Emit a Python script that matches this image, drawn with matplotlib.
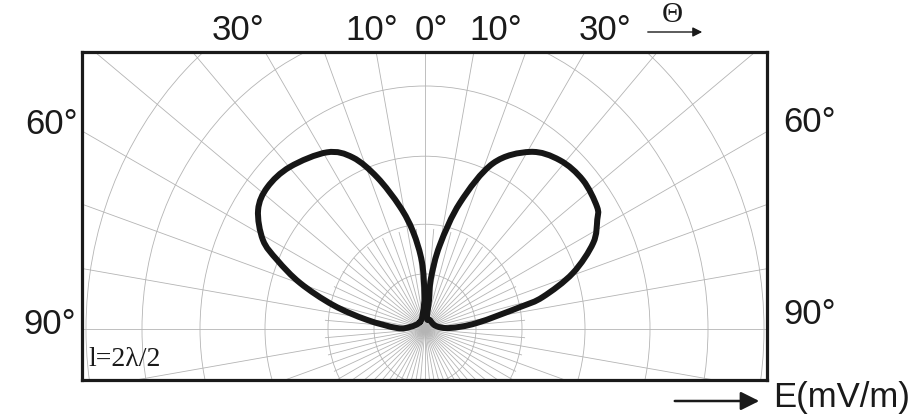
import numpy as np
import matplotlib.pyplot as plt
from matplotlib.patches import Ellipse, FancyArrowPatch, PathPatch
from matplotlib.path import Path

# radiation pattern of the l = 2*lambda/2 dipole, angle from zenith (deg) and field strength
right_theta = [29, 10, 8, 6.7, 10, 15.5, 22.3, 30.7, 38.6, 46.7, 54.6, 57.6, 62.9,
               69.3, 74.8, 77, 83.4, 87.7, 74.7, 29]
right_e = [0.10, 0.11, 0.29, 0.51, 0.85, 1.31, 1.79, 2.06, 2.16, 2.17, 2.11, 2.04, 1.89,
           1.58, 1.22, 0.975, 0.52, 0.25, 0.114, 0.10]

left_theta = [-35, -6.7, -1, -2.6, -7, -11.6, -17.5, -22.8, -29, -39.8, -48, -54.5, -61.2,
              -65, -69.8, -75.4, -81, -88, -82, -35]
left_e = [0.086, 0.17, 0.34, 0.67, 0.98, 1.25, 1.59, 1.86, 2.02, 2.11, 2.12, 2.05, 1.85,
          1.63, 1.33, 0.95, 0.59, 0.28, 0.15, 0.086]

# grid rings (horizontal half-axis) and the spoke angles
ring_r = [0.51, 0.97, 1.60, 2.25, 2.83, 3.39]
ring_stretch = 1.08
major_angles = np.arange(0, 360, 10)
minor_angles = np.arange(5, 360, 10)

W, H = 923, 418
fig = plt.figure(figsize=(W / 100, H / 100), dpi=100)
ax = fig.add_axes([82 / W, 1 - 380 / H, 685 / W, 328 / H])
ax.set_xlim(-3.43, 3.42)
ax.set_ylim(-0.51, 2.77)

grid_kw = dict(color='#b4b4b4', lw=0.6, zorder=1)
for r in ring_r:
    ax.add_patch(Ellipse((0, 0), 2 * r, 2 * r * ring_stretch, fill=False, **grid_kw))
for a in np.radians(major_angles):
    ax.plot([0, 6 * np.sin(a)], [0, 6 * np.cos(a)], **grid_kw)
for a in np.radians(minor_angles):
    ax.plot([0, 1.0 * np.sin(a)], [0, 1.0 * np.cos(a)], **grid_kw)


def smooth_loop(xs, ys):
    # closed Catmull-Rom path through the points, as cubic Bezier segments
    p = np.column_stack([xs, ys])[:-1]
    n = len(p)
    verts = [p[0]]
    codes = [Path.MOVETO]
    for i in range(n):
        p0, p1, p2, p3 = p[i - 1], p[i], p[(i + 1) % n], p[(i + 2) % n]
        verts += [p1 + (p2 - p0) / 6, p2 - (p3 - p1) / 6, p2]
        codes += [Path.CURVE4] * 3
    return Path(verts, codes)


for th, e in [(right_theta, right_e), (left_theta, left_e)]:
    t = np.radians(th)
    e = np.asarray(e)
    path = smooth_loop(e * np.sin(t), e * np.cos(t))
    ax.add_patch(PathPatch(path, fill=False, ec='#161616', lw=4.3,
                           joinstyle='round', capstyle='round', zorder=3))

ax.set_xticks([])
ax.set_yticks([])
for s in ax.spines.values():
    s.set_linewidth(2.3)
    s.set_color('#1a1a1a')


def ftext(x, y, s, **kw):
    fig.text(x / W, 1 - y / H, s, ha='center', va='center', **kw)


lab = dict(fontsize=25, family='Liberation Sans', color='#1a1a1a')
ftext(238, 31, '30°', **lab)
ftext(372, 31, '10°', **lab)
ftext(431, 31, '0°', **lab)
ftext(496, 31, '10°', **lab)
ftext(605, 31, '30°', **lab)
ftext(52, 125, '60°', **lab)
ftext(810, 123, '60°', **lab)
ftext(50, 325, '90°', **lab)
ftext(810, 315, '90°', **lab)
ftext(842, 397, 'E(mV/m)', **lab)
ftext(672, 15, 'Θ', fontsize=21, family='Liberation Serif', color='#1a1a1a')
ftext(125, 360, 'l=2λ/2', fontsize=20, family='Liberation Serif', color='#1a1a1a')


def farrow(x0, y0, x1, y1, ms, lw):
    fig.add_artist(FancyArrowPatch((x0 / W, 1 - y0 / H), (x1 / W, 1 - y1 / H),
                                   transform=fig.transFigure, arrowstyle='-|>',
                                   mutation_scale=ms, lw=lw, color='#1a1a1a'))


farrow(645, 32, 705, 32, 14, 1.0)
farrow(672, 401, 762, 401, 28, 1.8)

fig.savefig('out.png', dpi=100)
